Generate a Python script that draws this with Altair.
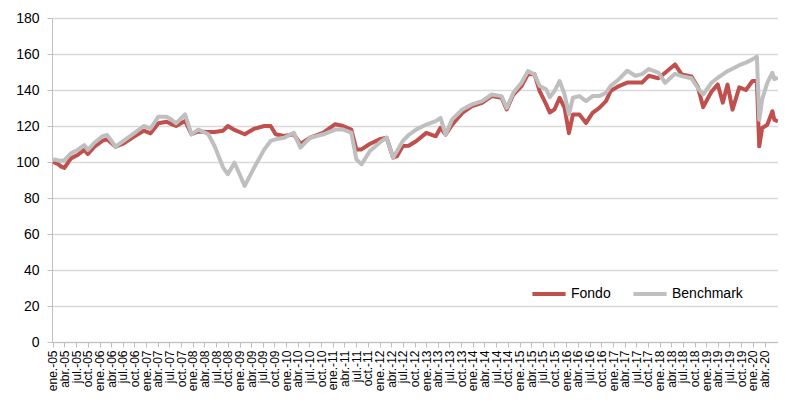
import altair as alt
import pandas as pd

dates = [
    "2005-01-03", "2005-02-07", "2005-03-07", "2005-04-01", "2005-05-22", "2005-07-13",
    "2005-09-04", "2005-10-01", "2005-11-22", "2006-01-25", "2006-03-01", "2006-05-07",
    "2006-07-10", "2006-09-28", "2006-12-13", "2007-02-04", "2007-04-07", "2007-06-10",
    "2007-07-19", "2007-08-22", "2007-11-01", "2007-12-22", "2008-02-13", "2008-05-01",
    "2008-06-19", "2008-08-25", "2008-10-01", "2008-11-22", "2009-02-10", "2009-04-25",
    "2009-07-13", "2009-09-01", "2009-10-10", "2009-12-16", "2010-03-01", "2010-04-22",
    "2010-07-07", "2010-10-19", "2011-01-19", "2011-03-22", "2011-05-25", "2011-07-04",
    "2011-08-13", "2011-10-16", "2012-01-01", "2012-02-25", "2012-04-16", "2012-05-16",
    "2012-07-01", "2012-08-16", "2012-10-13", "2013-01-01", "2013-03-16", "2013-04-22",
    "2013-06-01", "2013-07-22", "2013-10-10", "2013-12-25", "2014-03-13", "2014-05-28",
    "2014-08-13", "2014-09-22", "2014-11-13", "2015-01-16", "2015-03-07", "2015-04-28",
    "2015-06-07", "2015-07-28", "2015-08-25", "2015-10-01", "2015-11-10", "2015-12-19",
    "2016-01-22", "2016-02-22", "2016-04-13", "2016-06-04", "2016-07-25", "2016-09-16",
    "2016-11-07", "2016-12-13", "2017-02-16", "2017-04-22", "2017-06-25", "2017-08-16",
    "2017-10-07", "2017-12-22", "2018-02-13", "2018-05-01", "2018-06-22", "2018-09-07",
    "2018-10-28", "2018-12-07", "2019-02-10", "2019-04-01", "2019-05-10", "2019-06-16",
    "2019-07-25", "2019-09-16", "2019-11-07", "2019-12-28", "2020-02-01", "2020-02-19",
    "2020-03-13", "2020-04-22", "2020-06-01", "2020-06-16", "2020-07-14",
]

benchmark = [
    101.5, 101.0, 100.7, 101.0, 104.8, 106.7,
    109.4, 106.7, 110.7, 114.4, 115.0, 108.5,
    111.9, 115.9, 120.0, 118.7, 125.2, 125.2,
    123.5, 121.5, 126.5, 115.4, 118.0, 115.4,
    108.9, 96.9, 93.2, 99.6, 86.7, 96.9,
    107.0, 111.7, 112.6, 113.5, 116.3, 108.0,
    113.5, 115.4, 118.0, 118.0, 116.3, 101.5,
    98.7, 106.0, 110.7, 113.5, 102.4, 106.0,
    111.7, 115.0, 118.0, 120.8, 122.7, 124.5,
    115.2, 123.6, 129.2, 132.0, 133.8, 137.5,
    136.6, 130.0, 138.5, 144.0, 150.5, 148.7,
    142.2, 140.4, 136.0, 139.4, 145.0, 137.6,
    126.4, 135.7, 136.6, 133.8, 136.6, 136.6,
    138.5, 142.2, 146.0, 150.7, 147.9, 148.8,
    151.6, 149.7, 144.0, 149.0, 147.7, 146.5,
    141.0, 137.5, 144.0, 146.8, 148.7, 150.5,
    151.8, 153.8, 155.2, 157.0, 158.5, 123.5,
    134.7, 144.0, 149.6, 146.0, 146.8,
]

fondo = [
    100.0, 99.0, 97.4, 96.7, 102.0, 103.9,
    106.7, 104.4, 108.5, 111.9, 112.6, 108.5,
    110.4, 114.1, 117.4, 115.9, 121.5, 122.4,
    121.0, 120.0, 122.8, 115.4, 117.0, 116.7,
    116.7, 117.4, 120.0, 117.8, 115.4, 118.5,
    120.0, 120.0, 115.4, 114.4, 115.4, 110.0,
    113.5, 116.3, 121.0, 120.0, 118.0, 107.0,
    107.0, 110.0, 112.6, 113.5, 102.4, 103.2,
    108.9, 109.0, 111.5, 116.2, 114.3, 119.0,
    115.2, 120.8, 127.3, 131.0, 132.9, 136.6,
    135.7, 129.2, 137.5, 142.2, 148.7, 148.7,
    139.4, 132.0, 127.5, 129.2, 135.7, 130.1,
    116.0, 126.4, 126.4, 121.7, 127.3, 130.1,
    133.8, 139.4, 142.2, 144.1, 144.1, 144.1,
    147.9, 146.5, 149.6, 154.2, 148.7, 147.5,
    141.5, 130.5, 139.0, 143.1, 133.0, 143.0,
    129.1, 141.5, 140.0, 145.0, 145.0, 108.7,
    118.9, 120.7, 128.2, 123.5, 122.6,
]

series_names = ["Fondo", "Benchmark"]
series_colors = ["#C0504D", "#BFBFBF"]
month_labels = ["ene.", "feb.", "mar.", "abr.", "may.", "jun.",
                "jul.", "ago.", "sep.", "oct.", "nov.", "dic."]
tick_years = list(range(2005, 2021))
tick_months = [1, 4, 7, 10]

df = pd.concat([
    pd.DataFrame({"fecha": dates, "valor": fondo, "serie": "Fondo", "orden": 0}),
    pd.DataFrame({"fecha": dates, "valor": benchmark, "serie": "Benchmark", "orden": 1}),
], ignore_index=True)

tick_values = [alt.DateTime(year=y, month=m, date=1)
               for y in tick_years for m in tick_months
               if not (y == 2020 and m > 4)]

label_expr = ("[" + ",".join("'" + s + "'" for s in month_labels) + "][month(datum.value)]"
              " + '-' + timeFormat(datum.value, '%y')")

FONT = "Liberation Sans"

chart = alt.Chart(df).mark_line(strokeWidth=4, strokeJoin="round").encode(
    x=alt.X("fecha:T",
            scale=alt.Scale(domain=[alt.DateTime(year=2004, month=12, date=25),
                                    alt.DateTime(year=2020, month=7, date=15)]),
            axis=alt.Axis(values=tick_values, labelExpr=label_expr, labelAngle=-90,
                          labelAlign="right", labelBaseline="middle",
                          title=None, grid=False, tickSize=5, tickColor="#BFBFBF",
                          domainColor="#BFBFBF", labelFontSize=12, labelFont=FONT,
                          labelColor="#000000", labelPadding=3, labelOverlap=False,
                          labelFlush=False, labelBound=False)),
    y=alt.Y("valor:Q",
            scale=alt.Scale(domain=[0, 180], nice=False, zero=True),
            axis=alt.Axis(values=list(range(0, 181, 20)), title=None,
                          gridColor="#D9D9D9", gridWidth=1.5, tickSize=5,
                          tickColor="#BFBFBF", domainColor="#BFBFBF",
                          labelFontSize=14, labelFont=FONT, labelColor="#000000",
                          labelPadding=8)),
    color=alt.Color("serie:N",
                    scale=alt.Scale(domain=series_names, range=series_colors),
                    legend=alt.Legend(orient="none", direction="horizontal",
                                      legendX=478, legendY=257, title=None,
                                      symbolType="stroke", symbolSize=1100,
                                      symbolStrokeWidth=4, labelFontSize=14,
                                      labelFont=FONT, labelColor="#000000",
                                      labelOffset=3, columnPadding=14)),
    order=alt.Order("orden:Q"),
).properties(
    width=726,
    height=324,
    autosize=alt.AutoSizeParams(type="none"),
    padding={"left": 44, "top": 10, "right": 0, "bottom": 50},
).configure_view(stroke=None)

chart.save("out.html", embed_options={"renderer": "svg", "actions": False})
